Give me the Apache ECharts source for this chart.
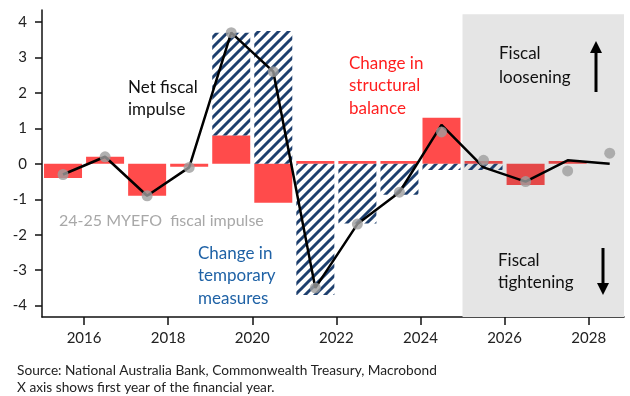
<!DOCTYPE html>
<html>
<head>
<meta charset="utf-8">
<script src="https://cdn.jsdelivr.net/npm/echarts@6/dist/echarts.min.js"></script>
<style>
  html, body { margin: 0; padding: 0; background: #fff; }
  #chart { width: 630px; height: 396px; }
</style>
</head>
<body>
<div id="chart"></div>
<script>
// Financial years (first calendar year of each financial year)
const years = [2015, 2016, 2017, 2018, 2019, 2020, 2021, 2022, 2023, 2024, 2025, 2026, 2027, 2028];
// Change in structural balance (% of GDP)
const structural = [-0.4, 0.2, -0.9, -0.08, 0.8, -1.1, 0.08, 0.08, 0.08, 1.3, 0.08, -0.6, 0.08, null];
// Change in temporary measures (% of GDP)
const temporary = [null, null, null, null, 2.9, 3.75, -3.7, -1.68, -0.87, -0.17, -0.17, null, null, null];
// Net fiscal impulse (line)
const netImpulse = [-0.3, 0.2, -0.9, -0.1, 3.7, 2.6, -3.5, -1.7, -0.8, 1.1, -0.1, -0.5, 0.1, 0.0];
// 24-25 MYEFO fiscal impulse (dots)
const myefo = [-0.3, 0.2, -0.9, -0.1, 3.7, 2.6, -3.5, -1.7, -0.8, 0.9, 0.1, -0.5, -0.2, 0.3];

const xTicks = [2016, 2018, 2020, 2022, 2024, 2026, 2028];
const yTicks = [-4, -3, -2, -1, 0, 1, 2, 3, 4];
const forecastStart = 2025;

const xMin = 2015, xMax = 2028.84;
const yMin = -4.32, yMax = 4.34;

// each financial year is plotted at its midpoint
const mid = y => y + 0.5;

function hatchPattern() {
  const c = document.createElement('canvas');
  c.width = 10; c.height = 10;
  const g = c.getContext('2d');
  g.strokeStyle = '#1d3f6e';
  g.lineWidth = 3;
  g.beginPath();
  g.moveTo(-5, 5); g.lineTo(5, -5);
  g.moveTo(0, 10); g.lineTo(10, 0);
  g.moveTo(5, 15); g.lineTo(15, 5);
  g.stroke();
  return c;
}

const red = '#ff4b4b';
const redShaded = '#e44848';

// Bar data is stored as [value, year] so the value dimension is the one that stacks.
const structuralData = years.map((y, i) => ({
  value: [structural[i], mid(y)],
  itemStyle: { color: y >= forecastStart ? redShaded : red }
}));
const temporaryData = years.map((y, i) => [temporary[i], mid(y)]);
const netData = years.map((y, i) => [mid(y), netImpulse[i]]);
const myefoData = years.map((y, i) => [mid(y), myefo[i]]);

const FONT = 'Lato, "Noto Sans", sans-serif';

const chart = echarts.init(document.getElementById('chart'), null, { renderer: 'canvas' });

const textEl = (text, x, y, color, size, lh) => ({
  type: 'text', left: x, top: y, z: 50,
  style: { text, fill: color, font: size + 'px ' + FONT, lineHeight: lh }
});

chart.setOption({
  animation: false,
  backgroundColor: '#fff',
  grid: { left: 42, right: 6, top: 10, bottom: 79, containLabel: false },
  xAxis: {
    type: 'value', min: xMin, max: xMax,
    splitLine: { show: false },
    axisLine: { onZero: false, lineStyle: { color: '#111', width: 1.5 } },
    axisTick: { show: true, length: 8, customValues: xTicks, lineStyle: { color: '#111', width: 1.5 } },
    axisLabel: { customValues: xTicks, color: '#222', fontSize: 15, fontFamily: FONT, margin: 14, formatter: v => String(v) }
  },
  yAxis: {
    type: 'value', min: yMin, max: yMax,
    splitLine: { show: false },
    axisLine: { show: true, lineStyle: { color: '#111', width: 1.5 } },
    axisTick: { show: true, length: 7, customValues: yTicks, lineStyle: { color: '#111', width: 1.5 } },
    axisLabel: { customValues: yTicks, color: '#222', fontSize: 15, fontFamily: FONT, margin: 15 }
  },
  series: [
    {
      name: 'Forecast', type: 'line', data: [], z: 1,
      markArea: {
        silent: true, z: 1,
        itemStyle: { color: '#e5e5e5' },
        data: [[{ coord: [forecastStart, 4.22] }, { coord: [xMax, yMin] }]]
      }
    },
    {
      name: 'Change in structural balance', type: 'bar', stack: 'fi', barWidth: 38, z: 2,
      encode: { x: 1, y: 0 },
      data: structuralData
    },
    {
      name: 'Change in temporary measures', type: 'bar', stack: 'fi', barWidth: 38, z: 2,
      encode: { x: 1, y: 0 },
      itemStyle: { color: { image: hatchPattern(), repeat: 'repeat' } },
      data: temporaryData
    },
    {
      name: 'Net fiscal impulse', type: 'line', z: 5, symbol: 'none',
      lineStyle: { color: '#000', width: 2.5 },
      data: netData
    },
    {
      name: '24-25 MYEFO fiscal impulse', type: 'scatter', z: 6,
      symbolSize: 11, itemStyle: { color: '#9e9e9e' },
      data: myefoData
    }
  ],
  graphic: [
    textEl('Net fiscal\nimpulse', 128, 77, '#111', 17, 22),
    textEl('Change in\nstructural\nbalance', 349, 52, '#ff1f1f', 17, 22.5),
    textEl('Fiscal\nloosening', 499, 42, '#111', 17, 24),
    textEl('24-25 MYEFO  fiscal impulse', 59, 210, '#a8a8a8', 16, 22),
    textEl('Change in\ntemporary\nmeasures', 198, 242, '#1f62a6', 17, 22.5),
    textEl('Fiscal\ntightening', 498, 249, '#111', 17, 22.5),
    textEl('Source: National Australia Bank, Commonwealth Treasury, Macrobond\nX axis shows first year of the financial year.', 17, 362, '#222', 13.7, 17),
    // loosening arrow
    { type: 'line', z: 50, shape: { x1: 596, y1: 92, x2: 596, y2: 52 }, style: { stroke: '#000', lineWidth: 3 } },
    { type: 'polygon', z: 50, shape: { points: [[596, 41], [590, 53], [602, 53]] }, style: { fill: '#000' } },
    // tightening arrow
    { type: 'line', z: 50, shape: { x1: 603, y1: 248, x2: 603, y2: 284 }, style: { stroke: '#000', lineWidth: 3 } },
    { type: 'polygon', z: 50, shape: { points: [[603, 295], [597, 283], [609, 283]] }, style: { fill: '#000' } }
  ]
});
</script>
</body>
</html>
